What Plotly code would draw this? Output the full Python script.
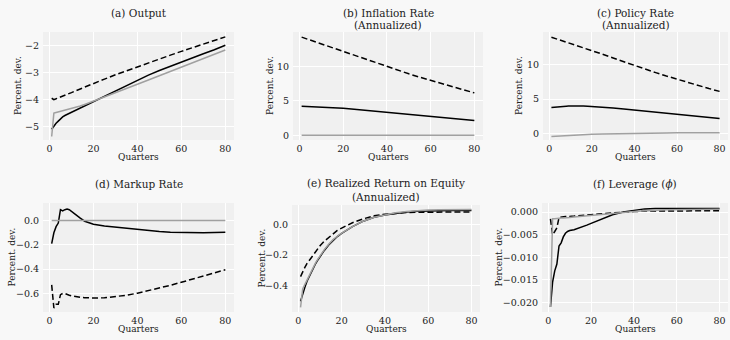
import plotly.graph_objects as go

quarters = [1, 2, 3, 4, 5, 6, 7, 8, 9, 10, 12, 14, 16, 18, 20, 25, 30, 35, 40, 45, 50, 55, 60, 65, 70, 75, 80]

# (a) Output
output_solid = [-5.10, -4.98, -4.88, -4.80, -4.70, -4.64, -4.59, -4.55, -4.51, -4.47, -4.39, -4.31, -4.23, -4.15,
                -4.07, -3.87, -3.66, -3.46, -3.27, -3.09, -2.92, -2.76, -2.60, -2.45, -2.30, -2.15, -1.98]
output_dashed = [-3.95, -4.00, -3.97, -3.94, -3.91, -3.88, -3.84, -3.81, -3.78, -3.74, -3.67, -3.60, -3.53, -3.47,
                 -3.40, -3.24, -3.08, -2.93, -2.78, -2.63, -2.49, -2.35, -2.21, -2.08, -1.94, -1.81, -1.67]
output_grey = [-5.37, -4.50, -4.48, -4.46, -4.44, -4.42, -4.40, -4.38, -4.36, -4.34, -4.29, -4.24, -4.18, -4.12,
               -4.06, -3.90, -3.74, -3.58, -3.43, -3.27, -3.11, -2.95, -2.79, -2.63, -2.48, -2.32, -2.16]

# (b) Inflation rate (annualized)
infl_solid = [4.20, 4.19, 4.18, 4.17, 4.16, 4.15, 4.14, 4.12, 4.11, 4.10, 4.07, 4.03, 3.99, 3.95,
              3.90, 3.76, 3.61, 3.46, 3.30, 3.15, 3.00, 2.85, 2.70, 2.55, 2.41, 2.27, 2.13]
infl_dashed = [14.25, 14.14, 14.03, 13.92, 13.81, 13.70, 13.59, 13.48, 13.37, 13.26, 13.04, 12.82, 12.60, 12.38,
               12.16, 11.60, 11.04, 10.49, 9.95, 9.43, 8.92, 8.43, 7.95, 7.49, 7.04, 6.60, 6.15]
infl_grey = [0.0] * 27

# (c) Policy rate (annualized)
policy_solid = [3.78, 3.82, 3.86, 3.89, 3.92, 3.94, 3.96, 3.97, 3.98, 3.99, 4.00, 4.00, 3.99, 3.96,
                3.93, 3.83, 3.70, 3.55, 3.40, 3.24, 3.08, 2.92, 2.77, 2.62, 2.48, 2.34, 2.21]
policy_dashed = [13.90, 13.80, 13.70, 13.60, 13.50, 13.40, 13.30, 13.20, 13.10, 13.00, 12.80, 12.60, 12.40, 12.20,
                 12.00, 11.45, 10.90, 10.35, 9.82, 9.30, 8.80, 8.31, 7.84, 7.38, 6.94, 6.51, 6.10]
policy_grey = [-0.40, -0.38, -0.36, -0.34, -0.32, -0.30, -0.28, -0.26, -0.24, -0.22, -0.19, -0.16, -0.13, -0.10,
               -0.08, -0.03, 0.01, 0.04, 0.07, 0.09, 0.11, 0.12, 0.13, 0.14, 0.15, 0.15, 0.16]

# (d) Markup rate
markup_solid = [-0.19, -0.10, -0.05, -0.02, 0.09, 0.08, 0.09, 0.095, 0.09, 0.075, 0.045, 0.02, -0.005, -0.02,
                -0.03, -0.045, -0.055, -0.065, -0.075, -0.085, -0.09, -0.095, -0.098, -0.10, -0.10, -0.098, -0.095]
markup_dashed = [-0.53, -0.72, -0.69, -0.69, -0.61, -0.60, -0.60, -0.61, -0.615, -0.62, -0.628, -0.632, -0.635, -0.637,
                 -0.638, -0.636, -0.628, -0.615, -0.598, -0.578, -0.556, -0.533, -0.508, -0.483, -0.457, -0.431, -0.405]
markup_grey = [0.0] * 27

# (e) Realized return on equity (annualized)
roe_solid = [-0.50, -0.45, -0.41, -0.37, -0.34, -0.31, -0.28, -0.255, -0.232, -0.21, -0.17, -0.135, -0.105, -0.08,
             -0.06, -0.015, 0.02, 0.045, 0.06, 0.072, 0.08, 0.085, 0.088, 0.09, 0.09, 0.09, 0.09]
roe_dashed = [-0.34, -0.305, -0.28, -0.255, -0.235, -0.215, -0.195, -0.175, -0.157, -0.14, -0.11, -0.085, -0.06, -0.04,
              -0.025, 0.01, 0.035, 0.055, 0.065, 0.072, 0.076, 0.078, 0.079, 0.08, 0.08, 0.08, 0.08]
roe_grey = [-0.54, -0.42, -0.39, -0.36, -0.33, -0.30, -0.275, -0.25, -0.227, -0.205, -0.165, -0.13, -0.10, -0.078,
            -0.058, -0.015, 0.02, 0.045, 0.062, 0.075, 0.083, 0.089, 0.092, 0.094, 0.095, 0.095, 0.095]

# (f) Leverage (phi)
lev_solid = [-0.0210, -0.0155, -0.0130, -0.0115, -0.0075, -0.0068, -0.0055, -0.0047, -0.0043, -0.0041, -0.0039,
             -0.0036, -0.0033, -0.0029, -0.0025, -0.0015, -0.0006, 0.0000, 0.0004, 0.0007, 0.0008, 0.0008, 0.0008,
             0.0008, 0.0008, 0.0008, 0.0008]
lev_dashed = [-0.0015, -0.0050, -0.0043, -0.0035, -0.0012, -0.0011, -0.0011, -0.0010, -0.0010, -0.0010, -0.0009,
              -0.0008, -0.0007, -0.0006, -0.0006, -0.0004, -0.0002, 0.0000, 0.0001, 0.0002, 0.0002, 0.0003, 0.0003,
              0.0003, 0.0003, 0.0003, 0.0003]
lev_grey = [-0.0210, -0.0015, -0.0015, -0.0014, -0.0014, -0.0013, -0.0013, -0.0013, -0.0012, -0.0012, -0.0011,
            -0.0010, -0.0009, -0.0008, -0.0007, -0.0005, -0.0003, -0.0001, 0.0001, 0.0003, 0.0004, 0.0005, 0.0005,
            0.0006, 0.0006, 0.0006, 0.0006]

titles = ["(a) Output", "(b) Inflation Rate<br>(Annualized)", "(c) Policy Rate<br>(Annualized)",
          "(d) Markup Rate", "(e) Realized Return on Equity<br>(Annualized)", "(f) Leverage (<i>ϕ</i>)"]
x_ticks = [0, 20, 40, 60, 80]

W, H = 730, 340
FONT = "DejaVu Serif, Liberation Serif, Noto Serif, serif"

panels = [
    dict(s=output_solid, d=output_dashed, g=output_grey, px=(43, 234), py=(32, 140), yr=[-5.50, -1.49],
         yt=[-5, -4, -3, -2], fmt="d", title_y=[13], ylab_x=18),
    dict(s=infl_solid, d=infl_dashed, g=infl_grey, px=(293, 483), py=(32, 140), yr=[-0.7, 15.0],
         yt=[0, 5, 10], fmt="d", title_y=[13, 25], ylab_x=270),
    dict(s=policy_solid, d=policy_dashed, g=policy_grey, px=(543, 728), py=(32, 140), yr=[-0.9, 14.65],
         yt=[0, 5, 10], fmt="d", title_y=[13, 25], ylab_x=519),
    dict(s=markup_solid, d=markup_dashed, g=markup_grey, px=(43, 234), py=(203, 312), yr=[-0.753, 0.145],
         yt=[-0.6, -0.4, -0.2, 0.0], fmt=".1f", title_y=[184], ylab_x=11),
    dict(s=roe_solid, d=roe_dashed, g=roe_grey, px=(292, 480), py=(205, 312), yr=[-0.57, 0.125],
         yt=[-0.4, -0.2, 0.0], fmt=".1f", title_y=[183, 197], ylab_x=261),
    dict(s=lev_solid, d=lev_dashed, g=lev_grey, px=(542, 728), py=(203, 312), yr=[-0.0221, 0.0020],
         yt=[-0.020, -0.015, -0.010, -0.005, 0.000], fmt=".3f", title_y=[184], ylab_x=498),
]

fig = go.Figure()
layout = dict(
    width=W, height=H, margin=dict(l=0, r=0, t=0, b=0),
    paper_bgcolor="#f8f8f8", plot_bgcolor="#f0f0f0",
    showlegend=False, font=dict(family=FONT, size=9.5, color="#222222"),
)
annotations = []
for i, p in enumerate(panels):
    k = "" if i == 0 else str(i + 1)
    xa, ya = "x" + k, "y" + k
    for ys, color, dash in [(p["s"], "#000000", "solid"), (p["d"], "#000000", "6px,3px"),
                            (p["g"], "#a0a0a0", "solid")]:
        fig.add_trace(go.Scatter(x=quarters, y=ys, mode="lines", xaxis=xa, yaxis=ya,
                                 line=dict(color=color, width=1.5, dash=dash), hoverinfo="skip"))
    x0, x1 = p["px"][0] / W, p["px"][1] / W
    y0, y1 = 1 - p["py"][1] / H, 1 - p["py"][0] / H
    layout["xaxis" + k] = dict(domain=[x0, x1], anchor=ya, range=[-2.95, 83.95], tickvals=x_ticks,
                               showgrid=True, gridcolor="#ffffff", gridwidth=1, zeroline=False,
                               showline=False, ticks="", tickfont=dict(size=9.5, family=FONT),
                               ticklabelstandoff=1)
    layout["yaxis" + k] = dict(domain=[y0, y1], anchor=xa, range=p["yr"], tickvals=p["yt"],
                               tickformat=p["fmt"], showgrid=True, gridcolor="#ffffff", gridwidth=1,
                               zeroline=False, showline=False, ticks="", tickfont=dict(size=9.5, family=FONT),
                               ticklabelstandoff=3)
    cx = (p["px"][0] + p["px"][1]) / 2 / W
    lines = titles[i].split("<br>")
    for ln, ty in zip(lines, p["title_y"]):
        annotations.append(dict(text=ln, x=cx, y=1 - ty / H, xref="paper", yref="paper",
                                showarrow=False, xanchor="center", yanchor="middle",
                                font=dict(size=10.5, family=FONT, color="#222222")))
    annotations.append(dict(text="Percent. dev.", x=p["ylab_x"] / W, y=1 - (p["py"][0] + p["py"][1]) / 2 / H,
                            xref="paper", yref="paper", showarrow=False, textangle=-90,
                            xanchor="center", yanchor="middle", font=dict(size=9, family=FONT, color="#222222")))
    annotations.append(dict(text="Quarters", x=cx, y=1 - (p["py"][1] + 17) / H, xref="paper", yref="paper",
                            showarrow=False, xanchor="center", yanchor="middle",
                            font=dict(size=9, family=FONT, color="#222222")))
layout["annotations"] = annotations
fig.update_layout(**layout)
fig.write_html("out.html", config={"displayModeBar": False},
               post_script="document.body.style.margin='0px';document.body.style.overflow='hidden';")
